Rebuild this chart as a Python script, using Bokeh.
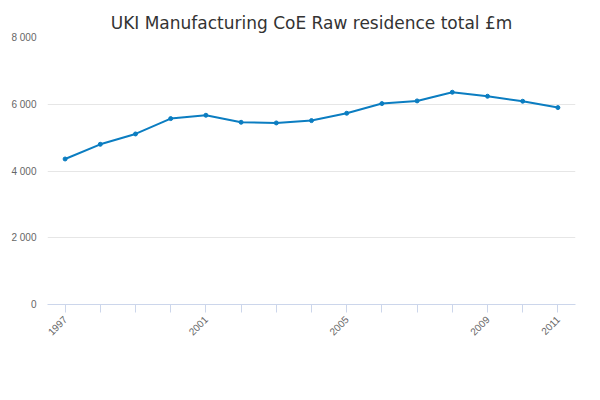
import math
from bokeh.plotting import figure
from bokeh.models import Label, Legend, LegendItem, FixedTicker, Range1d
from bokeh.embed import file_html
from bokeh.resources import INLINE

years = list(range(1997, 2012))
values = [4360, 4800, 5110, 5570, 5670, 5460, 5440, 5510, 5730, 6020, 6100, 6360, 6240, 6090, 5900]
y_ticks = [0, 2000, 4000, 6000, 8000]
x_labeled = [1997, 2001, 2005, 2009, 2011]
series_name = "UKI Manufacturing CoE Raw residence total £m"

p = figure(width=584, height=384, output_backend="svg", toolbar_location=None,
           min_border_left=47, min_border_right=9, min_border_top=37, min_border_bottom=80,
           x_range=Range1d(1996.5, 2011.5), y_range=Range1d(0, 8000))
p.title.text = "UKI Manufacturing CoE Raw residence total £m"
p.title.align = "center"
p.title.text_font = "DejaVu Sans"
p.title.text_font_size = "17px"
p.title.text_font_style = "normal"
p.title.text_color = "#333333"
p.outline_line_color = None

r = p.line(years, values, line_color="#0b7dc1", line_width=2)
c = p.scatter(years, values, size=4, color="#0b7dc1")

p.yaxis.ticker = FixedTicker(ticks=y_ticks)
p.yaxis.major_label_overrides = {t: f"{t:,}".replace(",", " ") for t in y_ticks}
p.yaxis.axis_line_color = None
p.yaxis.major_tick_line_color = None
p.yaxis.minor_tick_line_color = None
p.yaxis.major_label_text_font_size = "10px"
p.yaxis.major_label_text_color = "#666666"

p.xaxis.ticker = FixedTicker(ticks=years)
p.xaxis.major_label_overrides = {y: (str(y) if y in x_labeled else "") for y in years}
p.xaxis.major_label_orientation = math.pi / 4
p.xaxis.major_label_text_font_size = "10px"
p.xaxis.major_label_text_color = "#666666"
p.xaxis.axis_line_color = "#ccd6eb"
p.xaxis.major_tick_line_color = "#ccd6eb"
p.xaxis.major_tick_out = 8
p.xaxis.major_tick_in = 0
p.xaxis.minor_tick_line_color = None

p.xgrid.grid_line_color = None
p.ygrid.grid_line_color = "#e6e6e6"

legend = Legend(items=[LegendItem(label=series_name, renderers=[r, c])],
                orientation="horizontal", location=(55, -72),
                label_text_font_size="13px", label_text_font_style="bold",
                label_text_color="#333333", border_line_color=None,
                background_fill_alpha=0, glyph_width=20, padding=2)
p.add_layout(legend)

p.add_layout(Label(x=-38, y=270, x_units="screen", y_units="screen", text="£m",
                   text_font_size="10px", text_color="#666666"))
p.add_layout(Label(x=487, y=-86, x_units="screen", y_units="screen", text="Source:",
                   text_font_size="12px", text_color="#666666"))

open("out.html", "w").write(file_html(p, INLINE))
